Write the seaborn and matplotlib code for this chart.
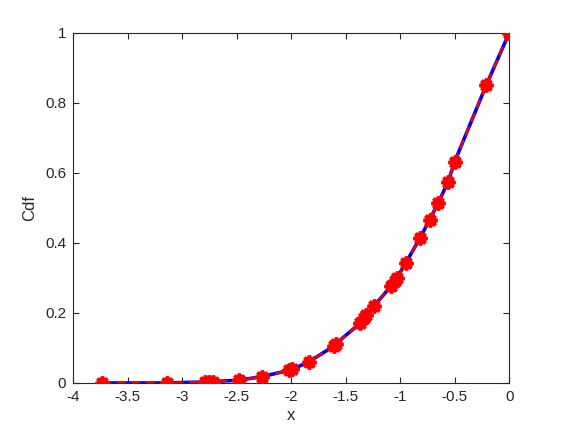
import matplotlib
matplotlib.use("Agg")
import matplotlib.pyplot as plt
import seaborn as sns
import pandas as pd

x_vals = [-3.73, -3.14, -2.79, -2.75, -2.72, -2.48, -2.27, -2.02, -1.99, -1.84,
          -1.61, -1.59, -1.37, -1.33, -1.31, -1.24, -1.08, -1.05, -1.03, -0.95,
          -0.82, -0.73, -0.65, -0.56, -0.50, -0.21, 0.0]
cdf_vals = [0.0, 0.0, 0.003, 0.004, 0.004, 0.008, 0.018, 0.036, 0.039, 0.060,
            0.105, 0.112, 0.170, 0.185, 0.195, 0.220, 0.278, 0.290, 0.300, 0.342,
            0.413, 0.466, 0.515, 0.575, 0.632, 0.851, 1.0]

df = pd.DataFrame({"x": x_vals, "Cdf": cdf_vals})

sns.set_style("white")
plt.rcParams["font.family"] = ["Liberation Sans", "DejaVu Sans"]
plt.rcParams["axes.unicode_minus"] = False

fig = plt.figure(figsize=(5.62, 4.37), dpi=100)
ax = fig.add_axes([0.13, 0.1236, 0.776, 0.801])

sns.lineplot(data=df, x="x", y="Cdf", ax=ax, color="#0000ff", linewidth=2.6,
             estimator=None, sort=False, zorder=2)
sns.lineplot(data=df, x="x", y="Cdf", ax=ax, color="#ff0000", linewidth=1.6,
             linestyle=(0, (4, 2.5)), estimator=None, sort=False, zorder=3)
# spiky asterisk markers like the original
ax.plot(df["x"], df["Cdf"], linestyle="none", marker=(8, 2, 0), markersize=10,
        markeredgewidth=2.6, color="#ff0000", zorder=4)
ax.plot(df["x"], df["Cdf"], linestyle="none", marker=(8, 2, 22.5), markersize=8,
        markeredgewidth=2, color="#ff0000", zorder=4)

ax.set_xlim(-4, 0)
ax.set_ylim(0, 1)
ax.set_xticks([-4, -3.5, -3, -2.5, -2, -1.5, -1, -0.5, 0])
ax.set_xticklabels(["-4", "-3.5", "-3", "-2.5", "-2", "-1.5", "-1", "-0.5", "0"])
ax.set_yticks([0, 0.2, 0.4, 0.6, 0.8, 1])
ax.set_yticklabels(["0", "0.2", "0.4", "0.6", "0.8", "1"])

dark = "#262626"
for s in ax.spines.values():
    s.set_visible(True)
    s.set_color(dark)
    s.set_linewidth(0.8)
ax.tick_params(direction="in", length=4, width=0.8, colors=dark,
               top=True, right=True, bottom=True, left=True,
               labelsize=11, pad=5)
ax.set_xlabel("x", fontsize=12, color=dark, labelpad=3)
ax.set_ylabel("Cdf", fontsize=12, color=dark, labelpad=6)

fig.savefig("out.png", dpi=100)
